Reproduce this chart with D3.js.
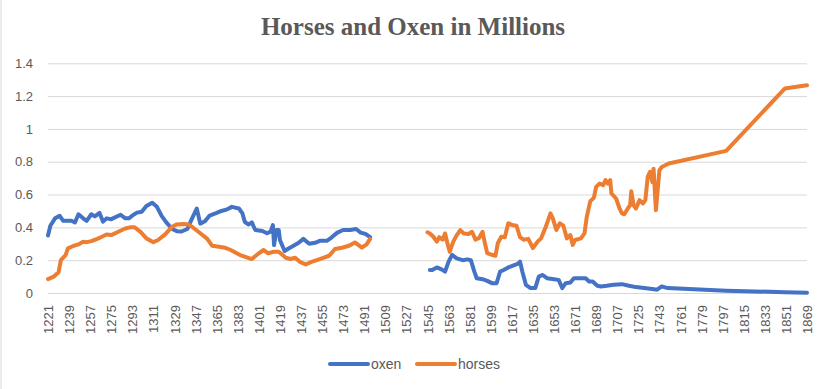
<!DOCTYPE html>
<html>
<head>
<meta charset="utf-8">
<script src="https://cdn.jsdelivr.net/npm/d3@7"></script>
<style>
  html, body { margin: 0; padding: 0; background: #fff; }
  #chart { width: 825px; height: 389px; }
</style>
</head>
<body>
<div id="chart"></div>
<script>
'use strict';

const COLORS = {
  oxen:   '#4472c4',
  horses: '#ed7d31',
};

// ── Data (null = no record) ─────────────────────────────────────────────────
const oxen = [
  [1221, 0.35], [1223, 0.41], [1227, 0.455], [1231, 0.47], [1234, 0.44],
  [1241, 0.44], [1244, 0.43], [1247, 0.48], [1251, 0.455], [1254, 0.44],
  [1258, 0.48], [1261, 0.467], [1265, 0.488], [1268, 0.435], [1271, 0.455],
  [1275, 0.45], [1283, 0.477], [1287, 0.455], [1290, 0.455], [1294, 0.477],
  [1297, 0.49], [1301, 0.495], [1305, 0.53], [1310, 0.55], [1314, 0.525],
  [1318, 0.47], [1322, 0.43], [1327, 0.39], [1331, 0.377], [1335, 0.375],
  [1340, 0.39], [1344, 0.455], [1348, 0.515], [1351, 0.423], [1355, 0.437],
  [1359, 0.472], [1365, 0.488], [1369, 0.5], [1374, 0.51], [1378, 0.525],
  [1384, 0.515], [1387, 0.485], [1389, 0.434], [1392, 0.418], [1395, 0.43],
  [1398, 0.384], [1404, 0.378], [1408, 0.364], [1411, 0.374], [1413, 0.414],
  [1414, 0.292], [1416, 0.384], [1418, 0.384], [1419, 0.323], [1423, 0.256],
  [1426, 0.27], [1431, 0.29], [1435, 0.306], [1439, 0.33], [1444, 0.3],
  [1449, 0.306], [1453, 0.318], [1459, 0.318], [1463, 0.338], [1468, 0.368],
  [1473, 0.384], [1479, 0.384], [1484, 0.39], [1488, 0.368], [1492, 0.36],
  [1496, 0.34],
  [1520, null],
  [1547, 0.14], [1549, 0.14], [1553, 0.156], [1557, 0.144], [1560, 0.13],
  [1563, 0.191], [1566, 0.232], [1570, 0.211], [1575, 0.2], [1579, 0.205],
  [1582, 0.2], [1585, 0.13], [1587, 0.09], [1592, 0.084], [1596, 0.074],
  [1600, 0.06], [1604, 0.06], [1607, 0.13], [1610, 0.14], [1614, 0.156],
  [1619, 0.17], [1622, 0.177], [1624, 0.191], [1626, 0.13], [1629, 0.05],
  [1633, 0.03], [1637, 0.03], [1640, 0.1], [1643, 0.11], [1647, 0.09],
  [1653, 0.084], [1657, 0.08], [1660, 0.03], [1663, 0.06], [1667, 0.064],
  [1670, 0.09], [1674, 0.09], [1680, 0.09], [1683, 0.07], [1686, 0.07],
  [1690, 0.044], [1693, 0.04], [1698, 0.044], [1704, 0.05], [1711, 0.054],
  [1717, 0.044], [1723, 0.036], [1730, 0.03], [1737, 0.024], [1741, 0.02],
  [1745, 0.04], [1750, 0.03], [1800, 0.014], [1850, 0.005], [1869, 0.002],
];

const horses = [
  [1221, 0.085], [1226, 0.1], [1230, 0.126], [1232, 0.2], [1236, 0.231],
  [1238, 0.272], [1243, 0.288], [1247, 0.296], [1251, 0.313], [1254, 0.31],
  [1258, 0.316], [1263, 0.33], [1267, 0.343], [1271, 0.357], [1275, 0.353],
  [1281, 0.373], [1287, 0.393], [1291, 0.4], [1295, 0.4], [1300, 0.373],
  [1305, 0.333], [1311, 0.31], [1315, 0.323], [1321, 0.357], [1327, 0.404],
  [1331, 0.418], [1337, 0.42], [1341, 0.418], [1345, 0.398], [1351, 0.364],
  [1357, 0.33], [1361, 0.288], [1367, 0.282], [1372, 0.276], [1377, 0.262],
  [1385, 0.231], [1395, 0.207], [1401, 0.242], [1405, 0.262], [1409, 0.242],
  [1414, 0.252], [1418, 0.252], [1424, 0.215], [1428, 0.207], [1432, 0.215],
  [1436, 0.19], [1441, 0.174], [1446, 0.19], [1453, 0.207], [1461, 0.227],
  [1466, 0.268], [1472, 0.276], [1478, 0.288], [1483, 0.308], [1489, 0.276],
  [1493, 0.296], [1496, 0.33],
  [1520, null],
  [1545, 0.37], [1547, 0.363], [1550, 0.343], [1553, 0.313], [1555, 0.34],
  [1558, 0.325], [1560, 0.363], [1562, 0.303], [1564, 0.252], [1567, 0.313],
  [1570, 0.353], [1573, 0.383], [1576, 0.363], [1580, 0.36], [1583, 0.373],
  [1586, 0.325], [1589, 0.335], [1592, 0.373], [1594, 0.303], [1596, 0.243],
  [1600, 0.233], [1603, 0.227], [1605, 0.303], [1608, 0.343], [1611, 0.34],
  [1614, 0.425], [1617, 0.415], [1621, 0.41], [1624, 0.34], [1627, 0.325],
  [1631, 0.33], [1635, 0.274], [1639, 0.313], [1642, 0.333], [1646, 0.404],
  [1650, 0.485], [1652, 0.455], [1655, 0.384], [1658, 0.425], [1661, 0.41],
  [1664, 0.333], [1667, 0.353], [1669, 0.293], [1671, 0.323], [1676, 0.333],
  [1679, 0.363], [1681, 0.465], [1684, 0.56], [1687, 0.58], [1689, 0.647],
  [1692, 0.667], [1695, 0.657], [1697, 0.688], [1699, 0.667], [1701, 0.688],
  [1702, 0.607], [1706, 0.576], [1709, 0.515], [1711, 0.485], [1713, 0.48],
  [1716, 0.515], [1718, 0.535], [1719, 0.62], [1721, 0.535], [1723, 0.515],
  [1726, 0.566], [1729, 0.546], [1731, 0.566], [1733, 0.708], [1735, 0.738],
  [1737, 0.677], [1738, 0.758], [1740, 0.505], [1741, 0.586], [1743, 0.748],
  [1745, 0.768], [1751, 0.789], [1800, 0.866], [1850, 1.246], [1869, 1.266],
];

const yearTicks  = d3.range(1221, 1870, 18);
const valueTicks = [0, 0.2, 0.4, 0.6, 0.8, 1, 1.2, 1.4];
const SERIES = [
  { key: 'oxen',   data: oxen },
  { key: 'horses', data: horses },
];

// ── Layout ─────────────────────────────────────────────────────────────────
const W = 825, H = 389;
const plot = { left: 48, right: 807, top: 63.3, bottom: 293 };
const FONT = '"Liberation Sans", Arial, sans-serif';
const TEXT = '#595959';

const svg = d3.select('#chart')
  .append('svg')
  .attr('width', W)
  .attr('height', H);

svg.append('line')
  .attr('x1', 1).attr('x2', 1).attr('y1', 0).attr('y2', H)
  .attr('stroke', '#d9d9d9');

svg.append('text')
  .attr('x', 413)
  .attr('y', 35)
  .attr('text-anchor', 'middle')
  .attr('fill', TEXT)
  .attr('font-family', '"Liberation Serif", "Times New Roman", serif')
  .attr('font-weight', 700)
  .attr('font-size', '25px')
  .text('Horses and Oxen in Millions');

const x = d3.scaleLinear().domain([1221, 1869]).range([plot.left, plot.right]);
const y = d3.scaleLinear().domain([0, 1.4]).range([plot.bottom, plot.top]);

// grid
svg.append('g')
  .attr('transform', `translate(${plot.left},0)`)
  .call(d3.axisLeft(y).tickValues(valueTicks).tickSize(-(plot.right - plot.left)).tickFormat(''))
  .call(g => g.select('.domain').remove())
  .call(g => g.selectAll('line').attr('stroke', '#d9d9d9'));

// y labels
svg.append('g')
  .attr('transform', `translate(${plot.left},0)`)
  .call(d3.axisLeft(y).tickValues(valueTicks).tickSize(0).tickPadding(15).tickFormat(d => String(d)))
  .call(g => g.select('.domain').remove())
  .call(g => g.selectAll('text')
    .attr('fill', TEXT)
    .attr('font-family', FONT)
    .attr('font-size', '13px'));

// x labels (rotated)
svg.append('g')
  .attr('transform', `translate(0,${plot.bottom})`)
  .call(d3.axisBottom(x).tickValues(yearTicks).tickSize(0).tickFormat(d => String(d)))
  .call(g => g.select('.domain').remove())
  .call(g => g.selectAll('text')
    .attr('fill', TEXT)
    .attr('font-family', FONT)
    .attr('font-size', '13px')
    .attr('text-anchor', 'end')
    .attr('transform', 'rotate(-90)')
    .attr('x', -12)
    .attr('y', 0)
    .attr('dy', '0.35em'));

// ── Lines ──────────────────────────────────────────────────────────────────
const line = d3.line()
  .defined(d => d[1] !== null)
  .x(d => x(d[0]))
  .y(d => y(d[1]));

SERIES.forEach(s => {
  svg.append('path')
    .datum(s.data)
    .attr('d', line)
    .attr('fill', 'none')
    .attr('stroke', COLORS[s.key])
    .attr('stroke-width', 4)
    .attr('stroke-linejoin', 'round')
    .attr('stroke-linecap', 'round');
});

// ── Legend ─────────────────────────────────────────────────────────────────
const legendX = [330, 417];
SERIES.forEach((s, i) => {
  const lg = svg.append('g').attr('transform', `translate(${legendX[i]},364)`);
  lg.append('line')
    .attr('x1', 0).attr('x2', 38)
    .attr('stroke', COLORS[s.key])
    .attr('stroke-width', 4)
    .attr('stroke-linecap', 'round');
  lg.append('text')
    .attr('x', 41)
    .attr('dy', '0.35em')
    .attr('fill', TEXT)
    .attr('font-family', FONT)
    .attr('font-size', '14px')
    .text(s.key);
});
</script>
</body>
</html>
